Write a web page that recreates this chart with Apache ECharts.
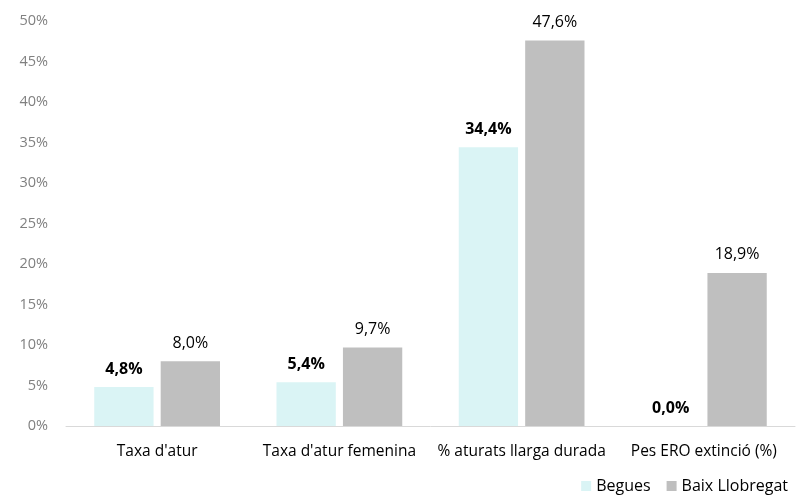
<!DOCTYPE html>
<html>
<head>
<meta charset="utf-8">
<script src="https://cdn.jsdelivr.net/npm/echarts@6/dist/echarts.min.js"></script>
<style>
  html, body { margin: 0; padding: 0; background: #fff; }
  #chart { width: 799px; height: 499px; }
</style>
</head>
<body>
<div id="chart"></div>
<script>
var categories = ["Taxa d'atur", "Taxa d'atur femenina", '% aturats llarga durada', 'Pes ERO extinció (%)'];
var begues = [4.8, 5.4, 34.4, 0.0];
var baixLlobregat = [8.0, 9.7, 47.6, 18.9];
var seriesNames = ['Begues', 'Baix Llobregat'];

var fontFamily = "'Open Sans', 'Noto Sans', sans-serif";

function pct(v) {
  return v.toFixed(1).replace('.', ',') + '%';
}

var chart = echarts.init(document.getElementById('chart'));
chart.setOption({
  animation: false,
  textStyle: { fontFamily: fontFamily },
  grid: {
    left: 66,
    right: 4,
    top: 21,
    bottom: 73
  },
  legend: {
    right: 6,
    bottom: 0,
    itemWidth: 10,
    itemHeight: 10,
    itemGap: 16,
    icon: 'rect',
    textStyle: { fontSize: 16, color: '#000', fontFamily: fontFamily },
    data: seriesNames
  },
  xAxis: {
    type: 'category',
    data: categories,
    axisLine: { lineStyle: { color: '#d9d9d9', width: 1 } },
    axisTick: { show: false },
    axisLabel: {
      color: '#000',
      fontSize: 15.5,
      margin: 18,
      interval: 0
    }
  },
  yAxis: {
    type: 'value',
    min: 0,
    max: 50,
    interval: 5,
    splitLine: { show: false },
    axisLine: { show: false },
    axisTick: { show: false },
    axisLabel: {
      color: '#808080',
      fontSize: 14.5,
      margin: 18,
      formatter: function (v) { return v + '%'; }
    }
  },
  series: [
    {
      name: seriesNames[0],
      type: 'bar',
      data: begues,
      barCategoryGap: '31%',
      barGap: '12%',
      itemStyle: { color: '#daf4f5' },
      label: {
        show: true,
        position: 'top',
        distance: 10,
        color: '#000',
        fontWeight: 'bold',
        fontSize: 16,
        formatter: function (p) { return pct(p.value); }
      }
    },
    {
      name: seriesNames[1],
      type: 'bar',
      data: baixLlobregat,
      barCategoryGap: '31%',
      barGap: '12%',
      itemStyle: { color: '#bfbfbf' },
      label: {
        show: true,
        position: 'top',
        distance: 10,
        color: '#000',
        fontSize: 16,
        formatter: function (p) { return pct(p.value); }
      }
    }
  ]
});
</script>
</body>
</html>
